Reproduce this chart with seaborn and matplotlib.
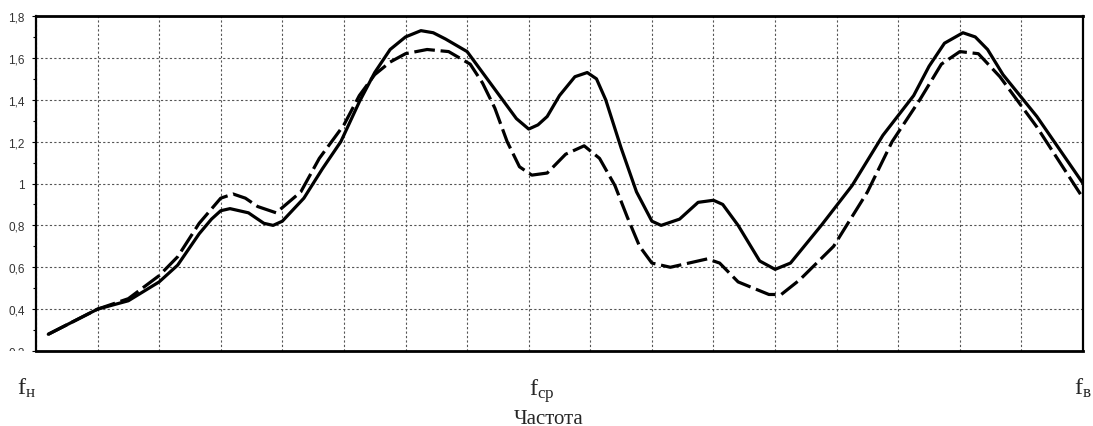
import matplotlib
matplotlib.use("Agg")
import matplotlib.pyplot as plt
from matplotlib.ticker import MultipleLocator
from matplotlib.transforms import Bbox, TransformedBbox
import seaborn as sns

# curve (frequency axis in grid steps, 0..17)
solid_x = [0.2, 0.6, 1.0, 1.5, 2.0, 2.3, 2.65, 2.85, 3.0, 3.15, 3.45,
           3.7, 3.85, 4.0, 4.35, 4.65, 4.95, 5.25, 5.5, 5.75, 6.0, 6.25,
           6.45, 6.65, 7.0, 7.3, 7.6, 7.8, 8.0, 8.15, 8.3, 8.5, 8.75, 8.95,
           9.1, 9.25, 9.5, 9.75, 10.0, 10.15, 10.45, 10.75, 11.0, 11.15, 11.4,
           11.75, 12.0, 12.25, 12.75, 13.25, 13.75, 14.25, 14.5, 14.75, 15.05,
           15.25, 15.45, 15.7, 16.25, 17.0]
solid_y = [0.28, 0.34, 0.40, 0.44, 0.53, 0.61, 0.76, 0.83, 0.87, 0.88, 0.86,
           0.81, 0.80, 0.82, 0.93, 1.07, 1.20, 1.39, 1.53, 1.64, 1.70, 1.73,
           1.72, 1.69, 1.63, 1.51, 1.39, 1.31, 1.26, 1.28, 1.32, 1.42, 1.51, 1.53,
           1.50, 1.40, 1.17, 0.96, 0.82, 0.80, 0.83, 0.91, 0.92, 0.90, 0.80,
           0.63, 0.59, 0.62, 0.80, 0.99, 1.23, 1.42, 1.56, 1.67, 1.72,
           1.70, 1.64, 1.52, 1.32, 1.00]

dashed_x = [0.2, 0.6, 1.0, 1.5, 2.0, 2.3, 2.65, 3.0, 3.2, 3.4, 3.6,
            3.9, 4.3, 4.6, 5.0, 5.25, 5.5, 5.75, 6.0, 6.35, 6.7,
            7.05, 7.25, 7.45, 7.65, 7.85, 8.05, 8.3, 8.6, 8.9, 9.15,
            9.4, 9.6, 9.8, 10.0, 10.3, 10.6, 10.9, 11.1, 11.4, 11.65,
            11.9, 12.1, 12.4, 12.95, 13.5, 13.9, 14.35, 14.7, 15.0, 15.3,
            15.65, 16.25, 17.0]
dashed_y = [0.28, 0.34, 0.40, 0.45, 0.56, 0.65, 0.81, 0.93, 0.95, 0.93, 0.89,
            0.86, 0.96, 1.12, 1.28, 1.42, 1.52, 1.58, 1.62, 1.64, 1.63,
            1.57, 1.48, 1.36, 1.20, 1.08, 1.04, 1.05, 1.14, 1.18, 1.12,
            0.99, 0.84, 0.70, 0.62, 0.60, 0.62, 0.64, 0.62, 0.53, 0.50,
            0.47, 0.47, 0.54, 0.70, 0.96, 1.20, 1.40, 1.57, 1.63, 1.62,
            1.51, 1.27, 0.93]

y_ticks = [0.2, 0.4, 0.6, 0.8, 1.0, 1.2, 1.4, 1.6, 1.8]
y_labels = ["0,2", "0,4", "0,6", "0,8", "1", "1,2", "1,4", "1,6", "1,8"]
freq_labels = {0: r"$\mathrm{f}_{\mathrm{н}}$", 8: r"$\mathrm{f}_{\mathrm{ср}}$", 17: r"$\mathrm{f}_{\mathrm{в}}$"}

sns.set_style("ticks")
plt.rcParams["font.family"] = ["Liberation Sans", "DejaVu Sans"]
plt.rcParams["mathtext.fontset"] = "custom"
plt.rcParams["mathtext.rm"] = "Liberation Serif"
plt.rcParams["mathtext.it"] = "Liberation Serif:italic"

fig = plt.figure(figsize=(10.93, 4.27), dpi=100)
ax = fig.add_axes([0.0329, 0.1756, 0.958, 0.7846])

sns.lineplot(x=solid_x, y=solid_y, ax=ax, sort=False, color="black", lw=2.3,
             solid_capstyle="round", solid_joinstyle="round")
sns.lineplot(x=dashed_x, y=dashed_y, ax=ax, sort=False, color="black", lw=2.3,
             linestyle=(0, (6.5, 1.8)), dash_joinstyle="round")

ax.set_xlim(0, 17)
ax.set_ylim(0.2, 1.8)

# x: grid at every step, text only at the band edges and centre
ax.set_xticks(range(18))
ax.set_xticklabels([freq_labels.get(i, "") for i in range(18)], fontsize=17.5)
ax.tick_params(axis="x", length=0, pad=18)
xt = ax.get_xticklabels()
xt[0].set_ha("right")
xt[8].set_ha("left")
xt[17].set_ha("center")

ax.set_yticks(y_ticks)
ax.set_yticklabels(y_labels, fontsize=8.5, color="#333333")
ax.yaxis.set_minor_locator(MultipleLocator(0.1))
ax.tick_params(axis="y", which="major", length=3, width=0.8, pad=5, color="black")
ax.tick_params(axis="y", which="minor", length=2, width=0.8, color="black")

ax.grid(True, which="major", color="#555555", linestyle=(0, (2, 2)), linewidth=0.8)
ax.set_axisbelow(True)

for side in ["top", "bottom"]:
    ax.spines[side].set_linewidth(2.0)
for side in ["left", "right"]:
    ax.spines[side].set_linewidth(1.6)
for s in ax.spines.values():
    s.set_color("black")

ax.set_xlabel("Частота", fontsize=15, family=["Liberation Serif", "DejaVu Serif"])
ax.xaxis.set_label_coords((549 - 36) / 1047, -0.172)

# the lowest label is cut by the frame in the original
low = ax.yaxis.get_major_ticks()[0].label1
low.set_clip_box(TransformedBbox(Bbox([[0, 0.1756], [0.04, 1]]), fig.transFigure))
low.set_clip_on(True)

fig.savefig("out.png", dpi=100)
